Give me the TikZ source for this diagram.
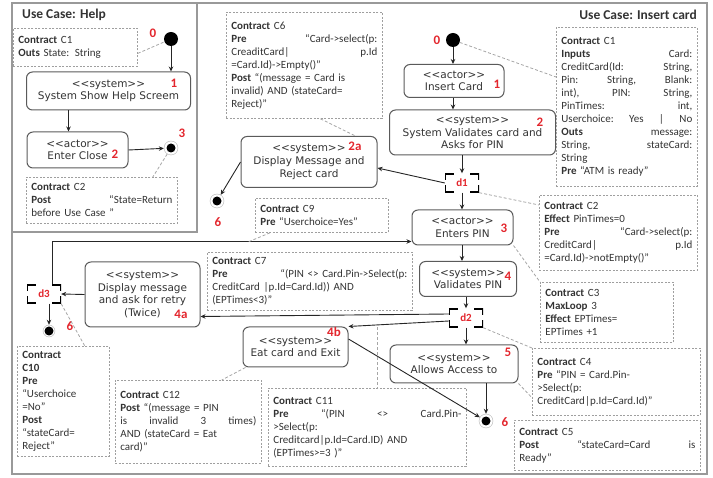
\documentclass[tikz,border=0pt]{standalone}
\usepackage{fontspec}
\setmainfont{Carlito}
\newfontfamily\boxfont{DejaVu Sans}
\usetikzlibrary{positioning,arrows.meta,calc}
\definecolor{numred}{HTML}{E3262D}
\definecolor{edge}{HTML}{5A5A5A}
\definecolor{ink}{HTML}{333333}
\newcommand{\stereo}[1]{<\kern0pt<#1>\kern0pt>}

\begin{document}
\begin{tikzpicture}[x=1pt, y=-1pt,
  >={Stealth[length=5pt,width=4.5pt]},
  act/.style={draw=edge, line width=1pt, rounded corners=6pt, align=center, inner sep=2pt, text=ink, font=\boxfont\fontsize{10.5}{12.7}\selectfont},
  contract/.style={draw=gray!75, line width=0.8pt, dash pattern=on 2pt off 1.5pt, anchor=north west, align=left, inner sep=5pt, text=ink, font=\fontsize{11}{13}\selectfont},
  num/.style={text=numred, font=\bfseries\fontsize{13}{13}\selectfont, inner sep=0pt},
  ttl/.style={text=ink, font=\bfseries\fontsize{13.5}{15}\selectfont, inner sep=0pt},
  inistate/.style={circle, fill=black, inner sep=0pt, minimum size=14pt},
  finstate/.style={circle, draw=gray!60, fill=white, inner sep=0pt, minimum size=14pt,
    path picture={\fill[black] (path picture bounding box.center) circle (4.5pt);}},
  dec/.style={inner sep=0pt, minimum width=34pt, minimum height=19pt, text=numred, font=\bfseries\fontsize{11}{11}\selectfont,
    path picture={\draw[line width=2.6pt, black]
      ([yshift=-7pt]path picture bounding box.north west) |- ([xshift=9pt]path picture bounding box.north west)
      ([xshift=-9pt]path picture bounding box.north east) -| ([yshift=-7pt]path picture bounding box.north east)
      ([yshift=7pt]path picture bounding box.south west) |- ([xshift=9pt]path picture bounding box.south west)
      ([xshift=-9pt]path picture bounding box.south east) -| ([yshift=7pt]path picture bounding box.south east);}},
  arr/.style={->, draw=black!85, line width=0.9pt},
  link/.style={draw=gray!70, line width=0.8pt, dash pattern=on 3pt off 2pt},
  ucframe/.style={draw=gray!80, line width=1.2pt}
]
  \useasboundingbox (0,0) rectangle (713,478);
  \draw[ucframe] (12,3) rectangle (707,474);
  \draw[ucframe] (12,3) rectangle (197,232);

  % use case: help
  \node[ttl, anchor=west] (thelp) at (22,15) {Use Case: Help};
  \node[contract, text width=114pt, minimum height=38pt] (hc1) at (13,28) {\textbf{Contract} C1\\\textbf{Outs} State: String};
  \node[inistate] (hini) at (171,39) {};
  \node[act, minimum width=164pt, minimum height=38pt] (hshow) at (108.5,91) {\stereo{system}\\System Show Help Screem};
  \node[act, minimum width=101pt, minimum height=36pt] (hclose) at (77.5,150) {\stereo{actor}\\Enter Close};
  \node[finstate] (hfin) at (171,148) {};
  \node[contract, text width=141pt, minimum height=46pt] (hc2) at (26,177) {\textbf{Contract} C2\\\textbf{Post}\hfill “State=Return\\before Use Case ”};
  \node[num] (hn0) at (153,33) {0};
  \node[num] (hn1) at (174,83) {1};
  \node[num] (hn2) at (115,154) {2};
  \node[num] (hn3) at (182,133) {3};

  \draw[arr] (hini) -- (hini |- hshow.north);
  \draw[arr] ([xshift=-9pt]hclose.north |- hshow.south) -- ([xshift=-9pt]hclose.north);
  \draw[arr] (hclose.east) -- (hfin);
  \draw[link] ([yshift=-6pt]hc1.east) -- (hini);
  \draw[link] (hfin) -- ([xshift=-25pt]hc2.north east);

  % use case: insert card
  \node[ttl, anchor=east] (tins) at (697,15) {Use Case: Insert card};
  \node[inistate] (ini) at (453,40) {};
  \node[act, minimum width=100pt, minimum height=33pt] (ins) at (454,81) {\stereo{actor}\\Insert Card};
  \node[act, minimum width=166pt, minimum height=45pt] (val) at (472.5,132.5) {\stereo{system}\\System Validates card and\\Asks for PIN};
  \node[dec] (d1) at (462,183) {d1};
  \node[act, minimum width=136pt, minimum height=51pt] (rej) at (309,162) {\stereo{system}\\Display Message and\\Reject card};
  \node[finstate] (fin6a) at (217,201) {};
  \node[act, minimum width=101pt, minimum height=35pt] (pin) at (462.5,227.5) {\stereo{actor}\\Enters PIN};
  \node[act, minimum width=97pt, minimum height=35pt] (vpin) at (468,279) {\stereo{system}\\Validates PIN};
  \node[dec] (d2) at (466,318) {d2};
  \node[act, minimum width=128pt, minimum height=38pt] (allow) at (454,364) {\stereo{system}\\Allows Access to};
  \node[finstate] (fin6b) at (486,421) {};
  \node[act, minimum width=115pt, minimum height=65pt] (retry) at (142.5,294.5) {\stereo{system}\\Display message\\and ask for retry\\(Twice)};
  \node[dec] (d3) at (44,294) {d3};
  \node[finstate, minimum size=12pt] (fin6c) at (49,331) {};
  \node[act, minimum width=105pt, minimum height=40pt] (eat) at (295.5,347) {\stereo{system}\\Eat card and Exit};

  \node[num] (n0) at (437,40) {0};
  \node[num] (n1) at (497,84) {1};
  \node[num] (n2) at (540,122) {2};
  \node[num] (n2a) at (355,146) {2a};
  \node[num] (n6a) at (218,222) {6};
  \node[num] (n3) at (504,228) {3};
  \node[num] (n4) at (508,276) {4};
  \node[num] (n4a) at (181,314) {4a};
  \node[num] (n4b) at (334,332) {4b};
  \node[num] (n5) at (508,352) {5};
  \node[num] (n6b) at (505,422) {6};
  \node[num] (n6c) at (70,326) {6};

  % contracts
  \node[contract, text width=131pt, minimum height=159pt] (ic1) at (556,27) {\textbf{Contract} C1\\
    \textbf{Inputs}\hfill Card:\\
    CreditCard(Id:\hfill String,\\
    Pin:\hfill String,\hfill Blank:\\
    int),\hfill PIN:\hfill String,\\
    PinTimes:\hfill int,\\
    Userchoice:\hfill Yes\hfill |\hfill No\\
    \textbf{Outs}\hfill message:\\
    String,\hfill stateCard:\\
    String\\
    \textbf{Pre} “ATM is ready”};
  \node[contract, text width=146pt, minimum height=106pt] (c6) at (226,12) {\textbf{Contract} C6\\
    \textbf{Pre}\hfill “Card->select(p:\\
    CreaditCard|\hfill p.Id\\
    =Card.Id)->Empty()”\\
    \textbf{Post} “(message = Card is\\
    invalid) AND (stateCard=\\
    Reject)”};
  \node[contract, text width=123pt, minimum height=34pt] (c9) at (255,198) {\textbf{Contract} C9\\\textbf{Pre} “Userchoice=Yes”};
  \node[contract, text width=148pt, minimum height=75pt] (c2) at (539,195) {\textbf{Contract} C2\\
    \textbf{Effect} PinTimes=0\\
    \textbf{Pre}\hfill “Card->select(p:\\
    CreditCard|\hfill p.Id\\
    =Card.Id)->notEmpty()”};
  \node[contract, text width=195pt, minimum height=58pt] (c7) at (207,252) {\textbf{Contract} C7\\
    \textbf{Pre}\hfill “(PIN <> Card.Pin->Select(p:\\
    CreditCard |p.Id=Card.Id)) AND\\
    (EPTimes<3)”};
  \node[contract, text width=123pt, minimum height=60pt] (c3) at (540,282) {\textbf{Contract} C3\\
    \textbf{MaxLoop} 3\\
    \textbf{Effect} EPTimes=\\
    EPTimes +1};
  \node[contract, text width=158pt, minimum height=67pt] (c4) at (532,348) {\textbf{Contract} C4\\
    \textbf{Pre} “PIN = Card.Pin-\\
    >Select(p:\\
    CreditCard|p.Id=Card.Id)”};
  \node[contract, text width=176pt, minimum height=50pt] (c5) at (514,420) {\textbf{Contract} C5\\
    \textbf{Post}\hfill “stateCard=Card\hfill is\\
    Ready”};
  \node[contract, text width=82pt, minimum height=108pt] (c10) at (17,346) {\textbf{Contract}\\
    \textbf{C10}\\
    \textbf{Pre}\\
    “Userchoice\\
    =No”\\
    \textbf{Post}\\
    “stateCard=\\
    Reject”};
  \node[contract, text width=136pt, minimum height=83pt] (c12) at (115,380) {\textbf{Contract} C12\\
    \textbf{Post} “(message = PIN\\
    is\hfill invalid\hfill 3\hfill times)\\
    AND (stateCard = Eat\\
    card)”};
  \node[contract, text width=188pt, minimum height=78pt] (c11) at (268,388) {\textbf{Contract} C11\\
    \textbf{Pre}\hfill “(PIN\hfill <>\hfill Card.Pin-\\
    >Select(p:\\
    Creditcard|p.Id=Card.ID) AND\\
    (EPTimes>=3 )”};

  % flow
  \draw[arr] (ini) -- (ini |- ins.north);
  \draw[arr] (ins.south -| ini) -- (ini |- val.north);
  \draw[arr] (val.south -| d1) -- (d1.north);
  \draw[arr] (d1.south) -- (d1 |- pin.north);
  \draw[arr] (d1.west) -- ([yshift=-6pt]rej.east);
  \draw[arr] (rej.west) -- (fin6a);
  \draw[arr] (pin.south -| d1) -- (d1 |- vpin.north);
  \draw[arr] (vpin.south -| d2) -- (d2.north);
  \draw[arr] (d2.south) -- (d2 |- allow.north);
  \draw[arr] (fin6b |- allow.south) -- (fin6b);
  \draw[arr] ([yshift=4pt]d2.west) -- ([yshift=-22pt]retry.east);
  \draw[arr] ([yshift=-3pt]d2.west) -- (eat.north east);
  \draw[arr] ([yshift=8pt]eat.east) -- (fin6b);
  \draw[arr] (retry.west) -- (d3.east);
  \draw[arr] ([xshift=8pt]d3.north) |- ([yshift=-14pt]pin.west);
  \draw[arr] (fin6c |- d3.south) -- (fin6c);

  % contract links
  \coordinate (c9foot) at (248,242);
  \coordinate (c11foot) at (377,327.5);
  \draw[link] (ini) -- ([yshift=-50pt]ic1.north west);
  \draw[link] ([xshift=16pt]c6.south) -- ([xshift=-22pt]rej.north east);
  \draw[link] ([xshift=15pt]c9.south west) -- (c9foot);
  \draw[link] (d1.south east) -- ([yshift=-10pt]c2.north west);
  \draw[link] (pin.south east) -- (c3.north west);
  \draw[link] (d2.south east) -- (c4.north west);
  \draw[link] (allow.south east) -- ([yshift=18pt]c4.south west);
  \draw[link] (c11foot) -- (c11foot |- c11.north);
  \draw[link] ([xshift=3pt]eat.south west) -- ([xshift=-40pt]c12.north east);
  \draw[link] (d3.south east) -- ([xshift=-25pt]c10.north east);
\end{tikzpicture}
\end{document}
